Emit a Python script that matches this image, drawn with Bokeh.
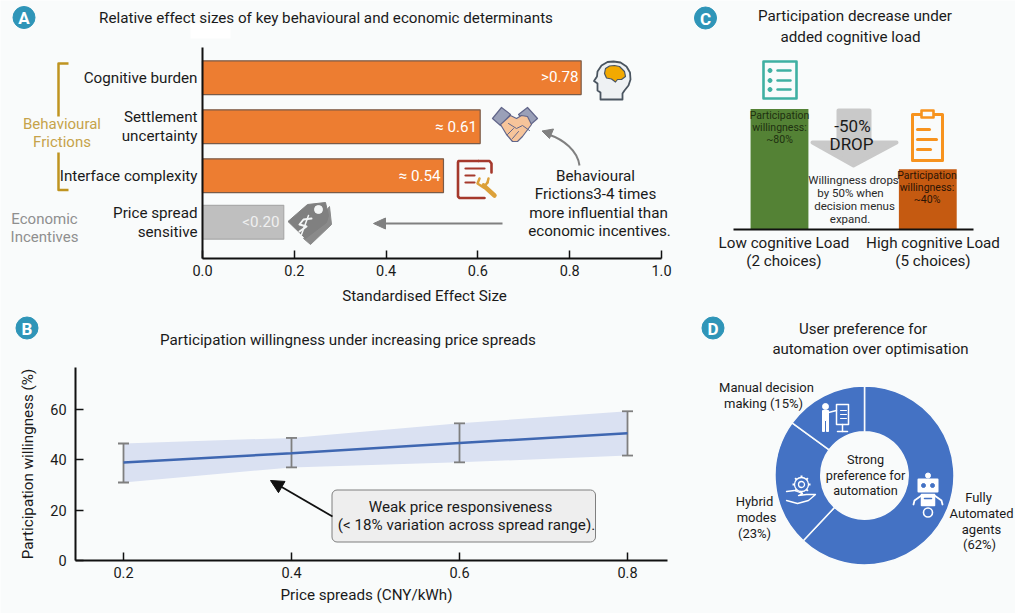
from bokeh.embed import file_html
from bokeh.resources import INLINE
from bokeh.plotting import figure
from bokeh.models import Range1d, LinearAxis, FixedTicker, Arrow, NormalHead, NumeralTickFormatter
from bokeh.core.properties import value

# ---------- data ----------
a_title = "Relative effect sizes of key behavioural and economic determinants"
a_categories = ["Cognitive burden", "Settlement\nuncertainty", "Interface complexity", "Price spread\nsensitive"]
a_values = [0.825, 0.605, 0.525, 0.177]
a_value_labels = [">0.78", "≈ 0.61", "≈ 0.54", "<0.20"]
a_slots = [0, 1, 2, 2.95]
a_ticks = [0.0, 0.2, 0.4, 0.6, 0.8, 1.0]

b_x = [0.2, 0.4, 0.6, 0.8]
b_mean = [38.9, 42.6, 46.7, 50.6]
b_upper = [46.5, 48.7, 54.5, 59.3]
b_lower = [31.0, 37.0, 39.0, 41.7]
b_yticks = [0, 20, 40, 60]

c_categories = ["Low cognitive Load\n(2 choices)", "High cognitive Load\n(5 choices)"]
c_values = [80, 40]
c_colors = ["#548235", "#C55A11"]

d_labels = ["Fully Automated agents", "Hybrid modes", "Manual decision making"]
d_shares = [62, 23, 15]

# ---------- canvas ----------
W, H = 1015, 613
BG = "#F9FBFB"
FONT = "Roboto"
px_x = (0, 1015)     # reference pixels shown on the canvas
px_y = (613, 0)


def scale_range(v0, p0, v1, p1, edges):
    k = (v1 - v0) / (p1 - p0)
    return Range1d(start=v0 + (edges[0] - p0) * k, end=v0 + (edges[1] - p0) * k)


p = figure(width=W, height=H, output_backend="svg", toolbar_location=None,
           x_axis_type=None, y_axis_type=None, min_border=0,
           x_range=Range1d(*px_x), y_range=Range1d(*px_y),
           background_fill_color=BG, border_fill_color=BG, outline_line_color=None)
p.grid.visible = False
p.extra_x_ranges = {"a": scale_range(0, 202, 1, 661, px_x),
                    "b": scale_range(0.2, 123, 0.8, 627, px_x),
                    "c": scale_range(0, 779, 1, 927.3, px_x)}
p.extra_y_ranges = {"a": scale_range(0, 77.2, 1, 126.2, px_y),
                    "b": scale_range(0, 560, 60, 409, px_y),
                    "c": scale_range(0, 229, 80, 108.5, px_y),
                    "d": Range1d(start=-px_y[0], end=-px_y[1])}


def T(x, y, s, size=15.2, color="#1a1a1a", align="center", weight="normal", angle=0):
    p.text(x=[x], y=[y], text=[s], text_font=value(FONT), text_font_size=f"{size}px",
           text_align=align, text_baseline="middle", text_color=color, text_font_style=weight,
           angle=angle)


def L(xs, ys, color, w=2, cap="round"):
    p.line(xs, ys, line_color=color, line_width=w, line_cap=cap, line_join="round")


def F(xs, ys, color, line=None, w=1):
    p.patch(xs, ys, fill_color=color, line_color=line if line else color, line_width=w, line_join="round")


def DOT(x, y, size, color, line=None, w=1):
    p.scatter([x], [y], marker="circle", size=size, fill_color=color,
              line_color=line if line else color, line_width=w)


def style_axis(ax, size="14.5px"):
    ax.axis_line_color = "#111111"
    ax.axis_line_width = 2
    ax.major_tick_line_color = "#111111"
    ax.major_tick_line_width = 1.5
    ax.minor_tick_line_color = None
    ax.major_tick_out = 0
    ax.major_tick_in = 8
    ax.major_label_text_font = FONT
    ax.major_label_text_font_size = size
    ax.major_label_text_color = "#1a1a1a"
    ax.axis_label_text_font = FONT
    ax.axis_label_text_font_style = "normal"
    ax.axis_label_text_font_size = "15.2px"
    ax.axis_label_text_color = "#1a1a1a"


# stray white patch present in the reference
p.quad(left=[190], right=[230], top=[23], bottom=[38], fill_color="#FFFFFF", line_color=None)

# ---------- badges ----------
for cx, cy, s in [(23.5, 17, "A"), (26.5, 327.5, "B"), (705, 17.5, "C"), (712.5, 327.5, "D")]:
    DOT(cx, cy, 22, "#2F95B8")
    T(cx, cy + 0.5, s, 17, "#FFFFFF", weight="bold")

# ---------- panel A ----------
T(325.5, 17, a_title)
for i, (v, sl) in enumerate(zip(a_values, a_slots)):
    grey = i == 3
    p.hbar(y=[sl], left=[0], right=[v], height=0.69, x_range_name="a", y_range_name="a",
           fill_color="#BFBFBF" if grey else "#ED7D31",
           line_color="#AAAAAA" if grey else "#7A5B48", line_width=1.2)
a_label_r = [578, 476.5, 440, 279]
a_label_y = [76, 126, 175, 221]
for r, yy, s, i in zip(a_label_r, a_label_y, a_value_labels, range(4)):
    T(r, yy, s, 15.2, "#F0F0F0" if i == 3 else "#FFFFFF", align="right")

ax_ax = LinearAxis(x_range_name="a", y_range_name="a", fixed_location=3.69, bounds=(0, 1),
                   ticker=FixedTicker(ticks=a_ticks), formatter=NumeralTickFormatter(format="0.0"))
style_axis(ax_ax)
ax_ax.major_label_standoff = 6
p.add_layout(ax_ax, "below")
T(424, 295, "Standardised Effect Size")
ay_ax = LinearAxis(x_range_name="a", y_range_name="a", fixed_location=0, bounds=(-0.62, 3.69),
                   ticker=FixedTicker(ticks=a_slots),
                   major_label_overrides={k: v for k, v in zip(a_slots, a_categories)})
style_axis(ay_ax, "15.2px")
ay_ax.major_tick_in = 0
ay_ax.major_label_standoff = 5
ay_ax.major_label_text_line_height = 1.05
p.add_layout(ay_ax, "left")

GOLD = "#BF9420"
L([68, 58, 58], [63, 63, 116], GOLD, 2.5, "butt")
L([58, 58, 68], [152, 189.5, 189.5], GOLD, 2.5, "butt")
T(61.5, 123, "Behavioural", 15, "#C6A34A")
T(61.5, 141, "Frictions", 15, "#C6A34A")
T(44, 218, "Economic", 15, "#8F8F8F")
T(44, 236, "Incentives", 15, "#8F8F8F")

for yy, xx, s in [(175, 595, "Behavioural"), (193.5, 595, "Frictions3-4 times"),
                  (212, 598, "more influential than"), (230, 599, "economic incentives.")]:
    T(xx, yy, s, 15.2)

# annotation arrows of A
p.bezier(x0=[579], y0=[165], x1=[548], y1=[134], cx0=[577], cy0=[150], cx1=[563], cy1=[139],
         line_color="#808080", line_width=2)
F([541.5, 553, 549], [130.5, 128.5, 138], "#808080")
L([502, 380], [223, 223], "#808080", 2, "butt")
F([373, 385, 385], [223, 217.5, 228.5], "#808080")

# brain icon
head_x = [600, 600, 597, 597, 593.5, 596.5, 597, 601, 607, 613, 620, 626, 629.5, 630, 628, 624, 622, 622]
head_y = [99, 92, 90, 83, 80.5, 76, 71, 65, 61.5, 61, 62, 66, 72, 79, 85, 90, 93, 99]
F(head_x, head_y, "#EEF1F3", "#4A5560", 1.8)
F([604, 605, 609, 614, 619, 624, 625, 621, 617, 615, 611, 606],
  [73, 68, 65.5, 65, 66, 71, 76, 79, 79, 81.5, 78.5, 77.5], "#F2A900", "#4A5560", 1.2)

# handshake icon
F([492, 501, 510, 500], [118, 107, 114, 125], "#9AA0B8", "#62668A", 1.2)
F([537, 527, 518, 529], [118, 107, 114, 125], "#9AA0B8", "#62668A", 1.2)
F([500, 510, 516, 521, 527, 531, 522, 517, 512, 506],
  [124, 115, 118, 115, 116, 124, 136, 141, 141, 134], "#F6C49A", "#62668A", 1.2)
L([508, 516, 522, 529], [123, 128, 125, 130], "#62668A", 1)
L([512, 518], [138, 131], "#62668A", 1)
L([507, 513], [134, 128], "#62668A", 1)

# report + wrench icon
RED = "#A5392C"
L([478, 458, 457.5, 457.5, 459, 484], [160.5, 160.5, 162, 196, 197.5, 197.5], RED, 2.6)
L([478, 489, 491, 491], [160.5, 160.5, 163, 172], RED, 2.6)
L([465, 484], [168, 168], RED, 2.2)
L([465, 474], [175, 175], RED, 2.2)
L([465, 474], [182, 182], RED, 2.2)
L([483, 494], [185, 195], "#DCA13A", 4.5)
L([479, 477, 483, 487], [178, 183, 187, 182], "#DCA13A", 2.5)
L([487, 488], [182, 178], "#DCA13A", 2.5)

# price tag icon
F([329, 331, 310, 303], [206, 224, 244, 238], "#8A8A8A")
F([287.5, 307, 325, 328, 326, 305], [221, 204, 202, 215, 222, 238], "#808080")
DOT(318, 209, 8, "#F4F6F6")
L([311, 303, 299, 306, 299], [218, 219, 224, 226, 231], "#F4F6F6", 2)
L([308, 301], [215, 234], "#F4F6F6", 1.5)

# ---------- panel B ----------
T(347.5, 339, "Participation willingness under increasing price spreads")
p.varea(x=b_x, y1=b_lower, y2=b_upper, x_range_name="b", y_range_name="b",
        fill_color="#DAE1F2", fill_alpha=1)
p.segment(x0=b_x, y0=b_lower, x1=b_x, y1=b_upper, x_range_name="b", y_range_name="b",
          line_color="#7F7F7F", line_width=1.8)
for caps in (b_lower, b_upper):
    p.scatter(b_x, caps, marker="dash", size=11, x_range_name="b", y_range_name="b",
              line_color="#7F7F7F", line_width=1.8)
p.line(b_x, b_mean, x_range_name="b", y_range_name="b", line_color="#3F67B1", line_width=2.5)
bx_ax = LinearAxis(x_range_name="b", y_range_name="b", fixed_location=0, bounds=(0.143, 0.848),
                   ticker=FixedTicker(ticks=b_x))
style_axis(bx_ax)
bx_ax.major_label_standoff = 6
p.add_layout(bx_ax, "below")
T(366, 594, "Price spreads (CNY/kWh)")
by_ax = LinearAxis(x_range_name="b", y_range_name="b", fixed_location=0.143, bounds=(0, 76.7),
                   ticker=FixedTicker(ticks=b_yticks), axis_label="Participation willingness (%)")
style_axis(by_ax)
by_ax.major_label_standoff = 9
by_ax.axis_label_standoff = 10
p.add_layout(by_ax, "left")

p.add_layout(Arrow(end=NormalHead(size=13, fill_color="#111111", line_color="#111111"),
                   x_start=332, y_start=516, x_end=270, y_end=480,
                   line_color="#111111", line_width=1.8))
p.quad(left=[331.5], right=[595], top=[489.5], bottom=[541.5], fill_color="#EEEEEE",
       line_color="#7F7F7F", line_width=1, border_radius=5)
T(460, 506, "Weak price responsiveness")
T(466, 524.5, "(< 18% variation across spread range).")

# ---------- panel C ----------
T(854.5, 15, "Participation decrease under")
T(850, 36, "added cognitive load")
p.vbar(x=[0, 1], bottom=0, top=c_values, width=0.39, x_range_name="c", y_range_name="c",
       fill_color=c_colors, line_color=None)
cx_ax = LinearAxis(x_range_name="c", y_range_name="c", fixed_location=0, bounds=(-0.31, 1.31),
                   ticker=FixedTicker(ticks=[0.03, 1.035]),
                   major_label_overrides={0.03: c_categories[0], 1.035: c_categories[1]})
style_axis(cx_ax, "15.2px")
cx_ax.major_tick_in = 0
cx_ax.major_label_standoff = 4
cx_ax.major_label_text_line_height = 1.05
p.add_layout(cx_ax, "below")

for yy, s in [(114.5, "Participation"), (127, "willingness:"), (139, "~80%")]:
    T(779, yy, s, 10.5, "#1E3010")
for yy, s in [(174.5, "Participation"), (186.5, "willingness:"), (198.5, "~40%")]:
    T(926.5, yy, s, 10.5, "#2B1405")

F([838, 869, 869, 896, 853, 812, 838], [110, 110, 142, 142, 165, 142, 142], "#C9C9C9", "#C9C9C9", 4)
T(852, 125, "-50%", 17)
T(851, 143.5, "DROP", 17)
for yy, xx, s in [(179, 853, "Willingness drops"), (192, 850, "by 50% when"),
                  (205, 854, "decision menus"), (218, 849.5, "expand.")]:
    T(xx, yy, s, 11.5, "#2A2A2A")

# list icon
TEAL = "#3FB0A2"
L([763, 796, 796, 763, 763], [61, 61, 98, 98, 61], TEAL, 2.6)
for yy in (70, 80, 89):
    DOT(769.5, yy, 4, TEAL)
    L([777, 790], [yy, yy], TEAL, 2.4)

# clipboard icon
ORANGE = "#F7931E"
L([920, 912, 912, 942, 942, 934], [114, 114, 160, 160, 114, 114], ORANGE, 3)
L([921, 933, 933, 921, 921], [110, 110, 117, 117, 110], ORANGE, 2.6)
L([917, 929], [129, 129], ORANGE, 3)
L([917, 936], [139, 139], ORANGE, 3)
L([917, 930], [149, 149], ORANGE, 3)

# ---------- panel D ----------
T(862.5, 328, "User preference for", 15)
T(870, 348, "automation over optimisation", 15)
bounds = [90.0]
for s in d_shares:
    bounds.append(bounds[-1] - s * 3.6)
p.annular_wedge(x=[864] * 3, y=[-475] * 3, inner_radius=43.7, outer_radius=89.5,
                start_angle=bounds[:-1], end_angle=bounds[1:], start_angle_units="deg",
                end_angle_units="deg", direction="clock", y_range_name="d",
                fill_color="#4472C4", line_color="#F9FBFB", line_width=1.5)
for yy, xx, s in [(459, 865, "Strong"), (474.5, 865, "preference for"), (490, 865, "automation")]:
    T(xx, yy, s, 12.7)
for yy, xx, s in [(387, 766, "Manual decision"), (403, 763, "making (15%)"),
                  (501, 754, "Hybrid"), (517, 756, "modes"), (533, 754, "(23%)"),
                  (497, 978, "Fully"), (513, 981, "Automated"), (529, 981, "agents"), (544, 979, "(62%)")]:
    T(xx, yy, s, 13)

WH = "#FFFFFF"
# presenter
DOT(825, 406, 6, WH)
F([822, 828, 828, 826, 826, 824, 824, 822], [410, 410, 431, 431, 420, 420, 431, 431], WH)
L([828, 836], [412, 410], WH, 1.5)
L([836, 848, 848, 836, 836], [404, 404, 424, 424, 404], WH, 1.5)
L([842, 842], [424, 431], WH, 1.5)
L([837, 847], [431, 431], WH, 1.5)
L([840, 846], [410, 410], WH, 1)
L([840, 846], [414, 414], WH, 1)
L([840, 846], [418, 418], WH, 1)

# hand with gear
p.scatter([801], [484], marker="asterisk", size=18, line_color=WH, line_width=2)
p.scatter([801], [484], marker="circle", size=14, fill_color="#4472C4", line_color=WH, line_width=1.3)
p.scatter([801], [484], marker="circle", size=6, fill_color=None, line_color=WH, line_width=1.3)
L([786, 794, 802, 798, 806, 815, 808, 797, 786], [491, 490, 493, 495, 494, 494, 500, 503, 500], WH, 1.3)

# robot
DOT(927.5, 475, 5, WH)
F([918, 937, 937, 918], [479, 479, 491, 491], WH, WH, 2)
DOT(923, 485, 4, "#4472C4")
DOT(932, 485, 4, "#4472C4")
F([921, 934, 934, 921], [494, 494, 505, 505], WH, WH, 1.5)
L([924, 931], [498, 498], "#4472C4", 1.5)
L([921, 914, 913], [495, 500, 504], WH, 1.8)
L([934, 941, 942], [495, 500, 504], WH, 1.8)
p.scatter([927.5], [512], marker="circle", size=9, fill_color="#4472C4", line_color=WH, line_width=1.6)

open("out.html", "w").write(file_html(p, INLINE))
